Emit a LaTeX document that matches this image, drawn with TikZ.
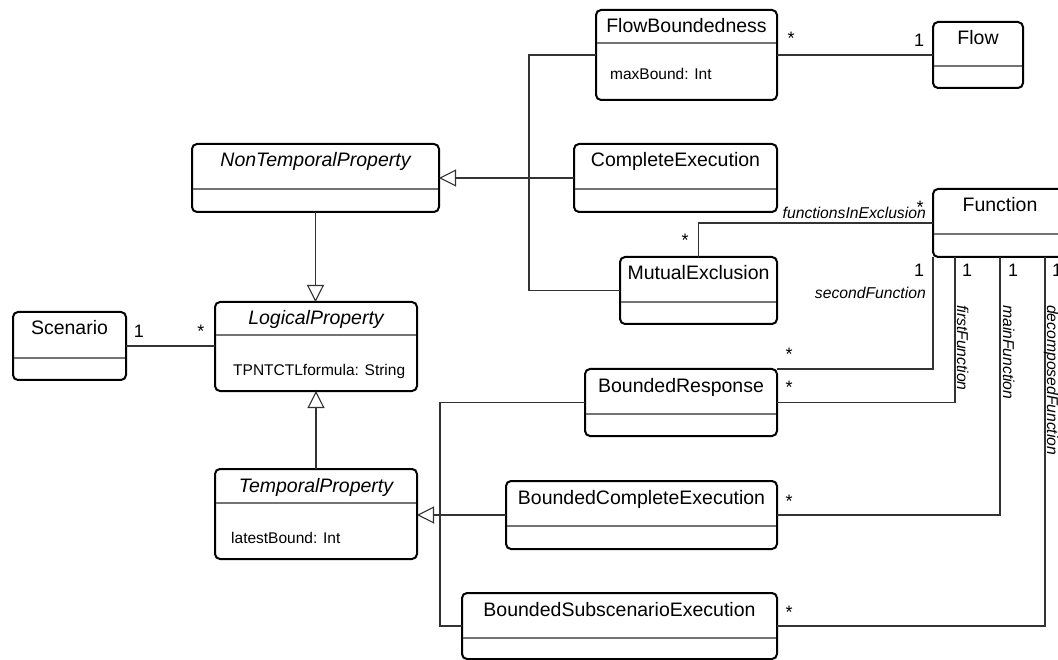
\documentclass[tikz,border=0pt]{standalone}
\usepackage{fontspec}
\setmainfont{Liberation Sans}
\usetikzlibrary{arrows.meta}
\tikzset{
  clsbox/.style={draw=black, line width=2pt, rounded corners=5pt, fill=white, inner sep=0pt, outer sep=0pt},
  divider/.style={draw=black!55, line width=1.4pt},
  ttl/.style={font=\fontsize{19.5}{22}\selectfont, inner sep=0pt, anchor=base},
  ittl/.style={font=\fontsize{19.5}{22}\selectfont\itshape, inner sep=0pt, anchor=base},
  attr/.style={font=\fontsize{15.5}{18}\selectfont, inner sep=0pt, anchor=base west},
  conn/.style={draw=black!80, line width=1.1pt},
  gen/.style={conn, -{Triangle[open, length=17pt, width=17pt, line width=1.1pt]}},
  mult/.style={font=\fontsize{18}{20}\selectfont, inner sep=0pt, anchor=base},
  role/.style={font=\fontsize{15.7}{18}\selectfont\itshape, inner sep=0pt},
}
\newcommand\umlclass[8]{%
  \node[clsbox, minimum width={(#4-#2)*1pt}, minimum height={(#5-#3)*1pt}] (#1) at ({(#2+#4)/2},{(#3+#5)/2}) {};
  \draw[divider] ({#2+1},#6) -- ({#4-1},#6);
  \node[#7] (#1-t) at ({(#2+#4)/2},{#3+23}) {#8};
}
\begin{document}
\begin{tikzpicture}[x=1pt, y=-1pt]
\useasboundingbox (0,0) rectangle (1058,660);
\clip (0,0) rectangle (1058,660);
\fill[white] (0,0) rectangle (1058,660);

% classes
\umlclass{fb}{596}{10}{777}{100}{43}{ttl}{FlowBoundedness}
\node[attr] (fb-a) at (610,80) {maxBound: Int};
\umlclass{flow}{933}{22}{1023}{88}{66}{ttl}{Flow}
\umlclass{ntp}{192}{144}{439}{212}{189}{ittl}{NonTemporalProperty}
\umlclass{ce}{574}{144}{777}{212}{189}{ttl}{CompleteExecution}
\umlclass{fn}{933}{189}{1067}{257}{234}{ttl}{Function}
\umlclass{me}{620}{257}{777}{324}{302}{ttl}{MutualExclusion}
\umlclass{sc}{13}{312}{126}{380}{358}{ttl}{Scenario}
\umlclass{lp}{215}{302}{417}{391}{335}{ittl}{LogicalProperty}
\node[attr] (lp-a) at (233,375) {TPNTCTLformula: String};
\umlclass{br}{585}{369}{777}{436}{414}{ttl}{BoundedResponse}
\umlclass{tp}{215}{469}{417}{559}{503}{ittl}{TemporalProperty}
\node[attr] (tp-a) at (231,543) {latestBound: Int};
\umlclass{bce}{506}{481}{777}{549}{526}{ttl}{BoundedCompleteExecution}
\umlclass{bse}{462}{593}{777}{659}{638}{ttl}{BoundedSubscenarioExecution}

% helper coordinates
\coordinate (tA) at (529,0);
\coordinate (tB) at (440,0);
\coordinate (fnB) at (955,257);
\coordinate (fnC) at (1000,257);
\coordinate (fnD) at (1045,257);

% generalizations
\draw[conn] (fb.west) -- (fb.west -| tA) |- (me.west);
\draw[gen] (ce.west) -- (ce.west -| ntp.east);
\draw[gen] (ntp.south) -- (ntp.south |- lp.north);
\draw[gen] (tp.north) -- (tp.north |- lp.south);
\draw[conn] (br.west) -- (br.west -| tB) |- (bse.west);
\draw[gen] (bce.west) -- (bce.west -| tp.east);

% associations
\draw[conn] (sc.east) -- (sc.east -| lp.west);
\draw[conn] (fb.east) -- (fb.east -| flow.west);
\draw[conn] (me.north) |- (fn.west);
\draw[conn] (fn.south west) |- (br.north east);
\draw[conn] (fnB) |- (br.east);
\draw[conn] (fnC) |- (bce.east);
\draw[conn] (fnD) |- (bse.east);

% multiplicities
\node[mult] (m1) at (139,338) {1};
\node[mult] (m2) at (201,338) {*};
\node[mult] (m3) at (791,45) {*};
\node[mult] (m4) at (919,47) {1};
\node[mult] (m5) at (685,247) {*};
\node[mult] (m6) at (920,214) {*};
\node[mult] (m7) at (919,277) {1};
\node[mult] (m8) at (967,277) {1};
\node[mult] (m9) at (1013,277) {1};
\node[mult] (m10) at (1057,277) {1};
\node[mult] (m11) at (789,361) {*};
\node[mult] (m12) at (789,394) {*};
\node[mult] (m13) at (789,507) {*};
\node[mult] (m14) at (789,618) {*};

% role names
\node[role, anchor=base east] (r1) at (926,219) {functionsInExclusion};
\node[role, anchor=base east] (r2) at (926,299) {secondFunction};
\node[role, rotate=-90, anchor=base west] (r3) at (957,305) {firstFunction};
\node[role, rotate=-90, anchor=base west] (r4) at (1003,305) {mainFunction};
\node[role, rotate=-90, anchor=base west] (r5) at (1047,305) {decomposedFunction};
\end{tikzpicture}
\end{document}
